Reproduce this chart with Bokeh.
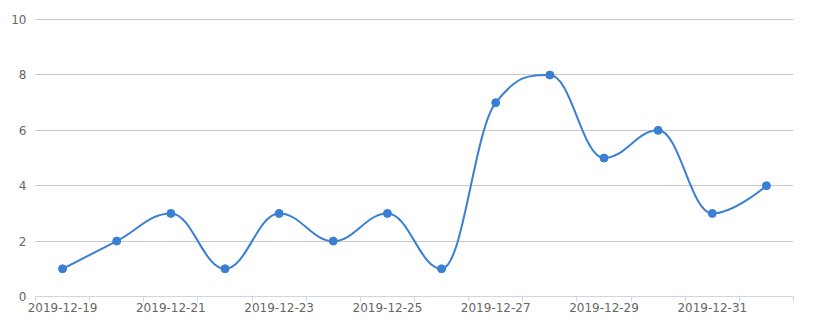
import numpy as np
from bokeh.plotting import figure
from bokeh.models import FixedTicker, ColumnDataSource, Range1d
from bokeh.embed import file_html
from bokeh.resources import INLINE

dates = ["2019-12-19", "2019-12-20", "2019-12-21", "2019-12-22", "2019-12-23",
         "2019-12-24", "2019-12-25", "2019-12-26", "2019-12-27", "2019-12-28",
         "2019-12-29", "2019-12-30", "2019-12-31", "2020-01-01"]
values = [1, 2, 3, 1, 3, 2, 3, 1, 7, 8, 5, 6, 3, 4]
y_ticks = [0, 2, 4, 6, 8, 10]

LINE = "#3a7fd3"

xs = list(range(len(values)))

# Highcharts-style spline control points (smoothing 1.5)
def spline_segments(xv, yv, smoothing=1.5):
    n = len(xv)
    denom = smoothing + 1
    right = [None] * n
    left = [None] * n
    for i in range(1, n - 1):
        px, py = xv[i], yv[i]
        lx, ly = xv[i - 1], yv[i - 1]
        nx, ny = xv[i + 1], yv[i + 1]
        lcx = (smoothing * px + lx) / denom
        lcy = (smoothing * py + ly) / denom
        rcx = (smoothing * px + nx) / denom
        rcy = (smoothing * py + ny) / denom
        corr = 0
        if rcx != lcx:
            corr = (rcy - lcy) * (rcx - px) / (rcx - lcx) + py - rcy
        lcy += corr
        rcy += corr
        if lcy > ly and lcy > py:
            lcy = max(ly, py)
            rcy = 2 * py - lcy
        elif lcy < ly and lcy < py:
            lcy = min(ly, py)
            rcy = 2 * py - lcy
        if rcy > ny and rcy > py:
            rcy = max(ny, py)
            lcy = 2 * py - rcy
        elif rcy < ny and rcy < py:
            rcy = min(ny, py)
            lcy = 2 * py - rcy
        left[i] = (lcx, lcy)
        right[i] = (rcx, rcy)
    seg = dict(x0=[], y0=[], x1=[], y1=[], cx0=[], cy0=[], cx1=[], cy1=[])
    for i in range(1, n):
        a = right[i - 1] if right[i - 1] else (xv[i - 1], yv[i - 1])
        b = left[i] if left[i] else (xv[i], yv[i])
        seg["x0"].append(xv[i - 1]); seg["y0"].append(yv[i - 1])
        seg["x1"].append(xv[i]); seg["y1"].append(yv[i])
        seg["cx0"].append(a[0]); seg["cy0"].append(a[1])
        seg["cx1"].append(b[0]); seg["cy1"].append(b[1])
    return seg

p = figure(width=814, height=325, output_backend="svg", toolbar_location=None,
           x_range=Range1d(-0.5, len(values) - 0.5), y_range=Range1d(0, 10.04),
           min_border_left=35, min_border_right=21, min_border_top=18,
           min_border_bottom=29)
p.outline_line_color = None
p.background_fill_color = "white"
p.border_fill_color = "white"

seg = ColumnDataSource(spline_segments(xs, values))
p.bezier(x0="x0", y0="y0", x1="x1", y1="y1", cx0="cx0", cy0="cy0",
         cx1="cx1", cy1="cy1", source=seg, line_color=LINE, line_width=2)
p.scatter(xs, values, size=8, color=LINE, line_color=LINE)

label_idx = list(range(0, len(dates), 2))
boundaries = [i - 0.5 for i in range(len(dates) + 1)]
p.xaxis.ticker = FixedTicker(ticks=label_idx, minor_ticks=boundaries)
p.xaxis.major_label_overrides = {i: dates[i] for i in label_idx}
p.xaxis.major_tick_out = 0
p.xaxis.major_tick_in = 0
p.xaxis.minor_tick_out = 5
p.xaxis.minor_tick_in = 0
p.xaxis.minor_tick_line_color = "#ccd6eb"
p.xaxis.axis_line_color = "#ccd6eb"
p.xaxis.major_label_standoff = 1
p.xaxis.major_label_text_font = "DejaVu Sans"
p.xaxis.major_label_text_font_size = "12px"
p.xaxis.major_label_text_color = "#666666"
p.xgrid.grid_line_color = None

p.yaxis.ticker = FixedTicker(ticks=y_ticks)
p.yaxis.axis_line_color = None
p.yaxis.major_tick_line_color = None
p.yaxis.minor_tick_line_color = None
p.yaxis.major_tick_out = 0
p.yaxis.major_tick_in = 0
p.yaxis.major_label_standoff = 9
p.yaxis.major_label_text_font = "DejaVu Sans"
p.yaxis.major_label_text_font_size = "12px"
p.yaxis.major_label_text_color = "#666666"
p.ygrid.grid_line_color = "#c8c8c8"
p.ygrid.grid_line_width = 1

open("out.html", "w").write(file_html(p, INLINE))
